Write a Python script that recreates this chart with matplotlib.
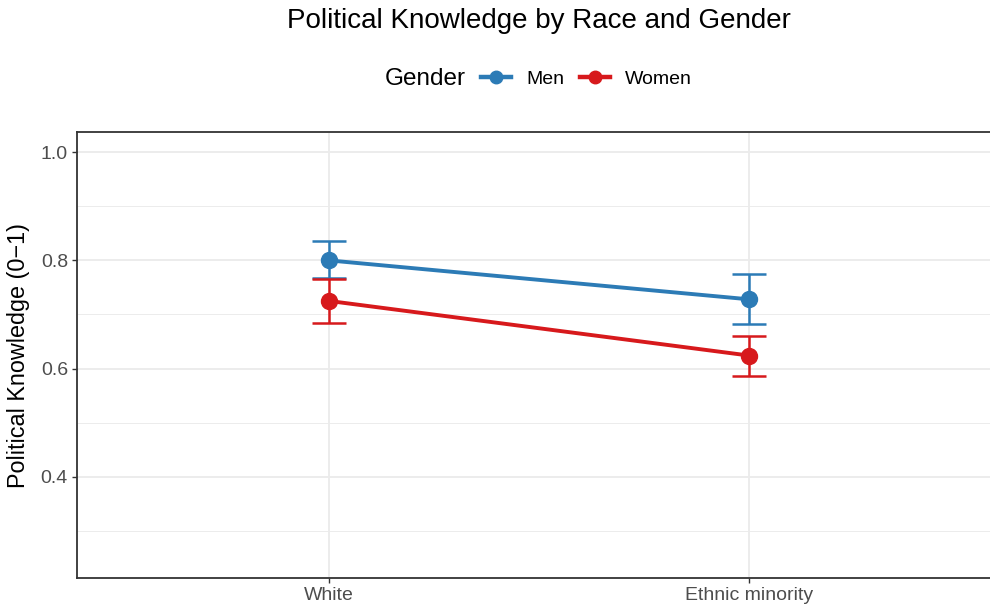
import matplotlib
matplotlib.use("Agg")
import matplotlib.pyplot as plt
from matplotlib.lines import Line2D
from matplotlib.ticker import MultipleLocator

plt.rcParams['font.family'] = ['Liberation Sans', 'DejaVu Sans']

categories = ["White", "Ethnic minority"]
groups = ["Men", "Women"]
means = {"Men": [0.800, 0.728], "Women": [0.725, 0.624]}
lower = {"Men": [0.767, 0.682], "Women": [0.684, 0.586]}
upper = {"Men": [0.835, 0.774], "Women": [0.765, 0.661]}
colors = {"Men": "#2C7BB6", "Women": "#D7191C"}

fig = plt.figure(figsize=(9.9, 6.12), dpi=100)
ax = fig.add_axes([77/990, 34/612, (1001-77)/990, (578-132)/612])

x = list(range(1, len(categories) + 1))
for g in groups:
    c = colors[g]
    yerr = [[m - l for m, l in zip(means[g], lower[g])],
            [u - m for m, u in zip(means[g], upper[g])]]
    ax.errorbar(x, means[g], yerr=yerr, fmt='none', ecolor=c, elinewidth=1.8,
                capsize=12, capthick=1.8, zorder=3)
    ax.plot(x, means[g], color=c, lw=2.8, zorder=4)
    ax.plot(x, means[g], 'o', color=c, ms=11.5, zorder=5)

ax.set_xlim(0.4, 2.6)
ax.set_ylim(0.2125, 1.0375)
ax.set_xticks(x)
ax.set_xticklabels(categories)
ax.yaxis.set_minor_locator(MultipleLocator(0.1))
ax.set_yticks([0.4, 0.6, 0.8, 1.0])
ax.set_yticklabels(["0.4", "0.6", "0.8", "1.0"])
ax.grid(which='major', color='#EBEBEB', lw=1.3, zorder=0)
ax.grid(which='minor', axis='y', color='#EBEBEB', lw=0.65, zorder=0)
ax.set_axisbelow(True)
ax.tick_params(which='major', length=3.5, width=1.0, color='#333333', labelsize=14, labelcolor='#4D4D4D', pad=3)
ax.tick_params(which='minor', length=0)
for s in ax.spines.values():
    s.set_color('#333333')
    s.set_linewidth(1.3)
ax.set_ylabel("Political Knowledge (0\u22121)", fontsize=16.8)
ax.yaxis.set_label_coords((30 - 77) / 924, 0.5)

fig.text(539/990, 1 - 21/612, "Political Knowledge by Race and Gender", ha='center', va='center', fontsize=20)

fig.text(466/990, 1 - 79/612, "Gender", ha='right', va='center', fontsize=17.5)
handles = [Line2D([0], [0], color=colors[g], lw=3.2, marker='o', ms=9) for g in groups]
leg = fig.legend(handles, groups, loc='center left', bbox_to_anchor=(481/990, 1 - 79/612),
                 ncol=2, frameon=False, fontsize=14, handlelength=1.55,
                 columnspacing=0.8, handletextpad=0.78, borderpad=0, borderaxespad=0)

fig.savefig("out.png", dpi=100)
